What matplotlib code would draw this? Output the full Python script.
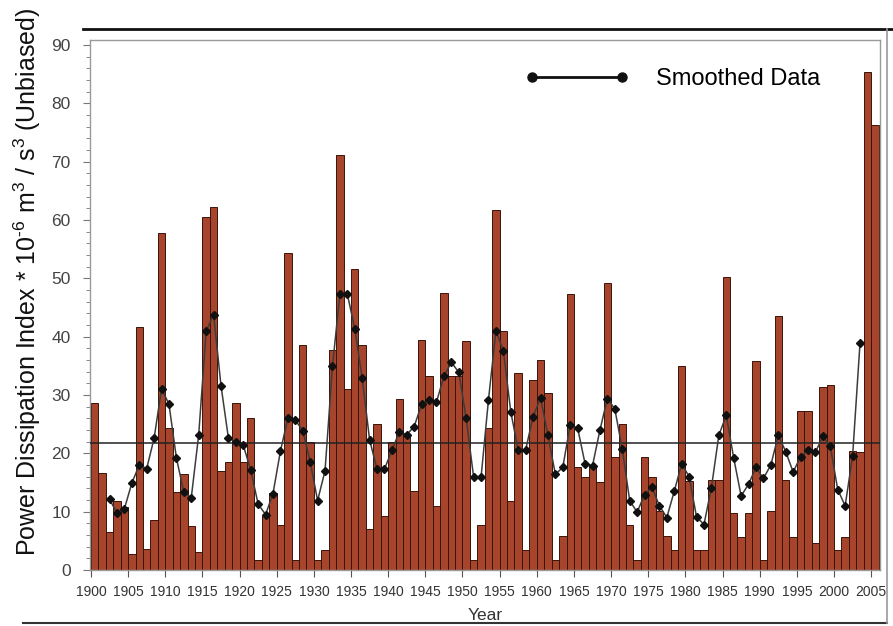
import numpy as np
import matplotlib
matplotlib.use("Agg")
import matplotlib.pyplot as plt
from matplotlib.lines import Line2D
from matplotlib.legend_handler import HandlerLine2D
from matplotlib.ticker import MultipleLocator

plt.rcParams["font.family"] = ["Liberation Sans", "DejaVu Sans"]
plt.rcParams["mathtext.fontset"] = "custom"
plt.rcParams["mathtext.rm"] = "Liberation Sans"

years = np.arange(1900, 2006)
pdi = [
    28.6, 16.7, 6.5, 11.9, 10.8, 2.7, 41.7, 3.6, 8.6, 57.8,
    24.4, 13.4, 16.4, 7.6, 3.1, 60.5, 62.2, 17.0, 18.5, 28.6,
    18.5, 26.0, 1.8, 9.2, 13.2, 7.7, 54.3, 1.8, 38.6, 21.9,
    1.8, 3.5, 37.8, 71.1, 31.0, 51.6, 38.5, 7.0, 25.0, 9.3,
    21.9, 29.3, 23.1, 13.6, 39.4, 33.3, 11.0, 47.5, 33.3, 33.3,
    39.2, 1.8, 7.7, 24.3, 61.8, 41.0, 11.9, 33.7, 3.5, 32.6,
    36.0, 30.3, 1.8, 5.8, 47.3, 17.6, 15.9, 18.0, 15.1, 49.2,
    19.4, 25.0, 7.7, 1.8, 19.4, 16.0, 10.2, 5.8, 3.5, 35.0,
    15.3, 3.5, 3.5, 15.4, 15.4, 50.2, 9.7, 5.6, 9.7, 35.9,
    1.8, 10.2, 43.6, 15.4, 5.6, 27.2, 27.2, 4.7, 31.3, 31.8,
    3.5, 5.6, 20.4, 20.3, 85.3, 76.3,
]

smooth_years = np.arange(1902, 2004)
smoothed = [
    12.1, 9.8, 10.5, 14.9, 18.0, 17.4, 22.6, 31.1, 28.4, 19.2,
    13.3, 12.4, 23.2, 40.9, 43.8, 31.6, 22.6, 22.0, 21.4, 17.1,
    11.3, 9.5, 13.1, 20.4, 26.0, 25.7, 23.9, 18.6, 11.9, 17.0,
    34.9, 47.3, 47.3, 41.4, 32.9, 22.3, 17.3, 17.3, 20.5, 23.7,
    23.2, 24.6, 28.4, 29.1, 28.8, 33.2, 35.6, 33.9, 26.0, 15.9,
    15.9, 29.2, 41.0, 37.6, 27.1, 20.6, 20.6, 26.3, 29.5, 23.1,
    16.4, 17.6, 24.9, 24.3, 18.2, 17.9, 24.0, 29.4, 27.6, 20.8,
    11.9, 9.9, 12.9, 14.2, 11.0, 9.0, 13.5, 18.2, 16.0, 9.1,
    7.8, 14.1, 23.1, 26.5, 19.2, 12.7, 14.7, 17.6, 15.7, 18.0,
    23.1, 20.3, 16.8, 19.4, 20.5, 20.2, 22.9, 21.2, 13.8, 11.0,
    19.5, 38.9,
]

MEAN_PDI = 21.7

fig = plt.figure(figsize=(8.93, 6.26), dpi=100)
ax = fig.add_axes([90 / 893, 56 / 626, 790 / 893, 530 / 626])

ax.bar(years, pdi, width=1.0, align="edge", color="#A6452C",
       edgecolor="#3a1409", linewidth=0.7, zorder=2)
ax.plot(smooth_years + 0.5, smoothed, color="#3c3c3c", linewidth=1.1,
        marker="D", markersize=3.6, markerfacecolor="#111111",
        markeredgecolor="#111111", zorder=4)
ax.axhline(MEAN_PDI, color="#222222", linewidth=1.1, zorder=3)

ax.set_xlim(1899.87, 2006.19)
ax.set_ylim(0, 90.86)
ax.xaxis.set_major_locator(MultipleLocator(5))
ax.yaxis.set_major_locator(MultipleLocator(10))
ax.yaxis.set_minor_locator(MultipleLocator(2))
ax.tick_params(axis="x", direction="out", length=5, width=0.8,
               labelsize=10, colors="#555555", labelcolor="#333333", pad=6)
ax.tick_params(axis="y", which="major", direction="out", length=5,
               width=0.8, labelsize=12.5, colors="#777777",
               labelcolor="#444444", pad=9)
ax.tick_params(axis="y", which="minor", direction="out", length=3,
               width=0.7, colors="#888888")
for side in ["top", "right", "left", "bottom"]:
    ax.spines[side].set_color("#9a9a9a")
    ax.spines[side].set_linewidth(1.0)

ax.set_xlabel("Year", fontsize=12.5, color="#333333", labelpad=6)
ax.set_ylabel(r"Power Dissipation Index * 10$^{\text{-}6}$ m$^{3}$ / s$^{3}$ (Unbiased)",
              fontsize=18, color="#111111")
ax.yaxis.set_label_coords(-0.059, 0.543)

proxy = Line2D([], [], color="#111111", linewidth=2, marker="o",
               markersize=6.5)
ax.legend([proxy], ["Smoothed Data"], loc="center left",
          bbox_to_anchor=(0.5595, 0.926), frameon=False, fontsize=17,
          handlelength=3.8, handletextpad=1.45, borderpad=0,
          borderaxespad=0,
          handler_map={Line2D: HandlerLine2D(numpoints=2, marker_pad=0)})

# outer chart frame
fig.add_artist(Line2D([83 / 893, 1.0], [1 - 29 / 626, 1 - 29 / 626],
                      color="#111111", linewidth=2))
fig.add_artist(Line2D([23 / 893, 887 / 893], [1 - 623 / 626, 1 - 623 / 626],
                      color="#333333", linewidth=1.5))
fig.add_artist(Line2D([887 / 893, 887 / 893], [1 - 29 / 626, 1 - 623 / 626],
                      color="#9a9a9a", linewidth=1.2))

fig.savefig("out.png", dpi=100)
